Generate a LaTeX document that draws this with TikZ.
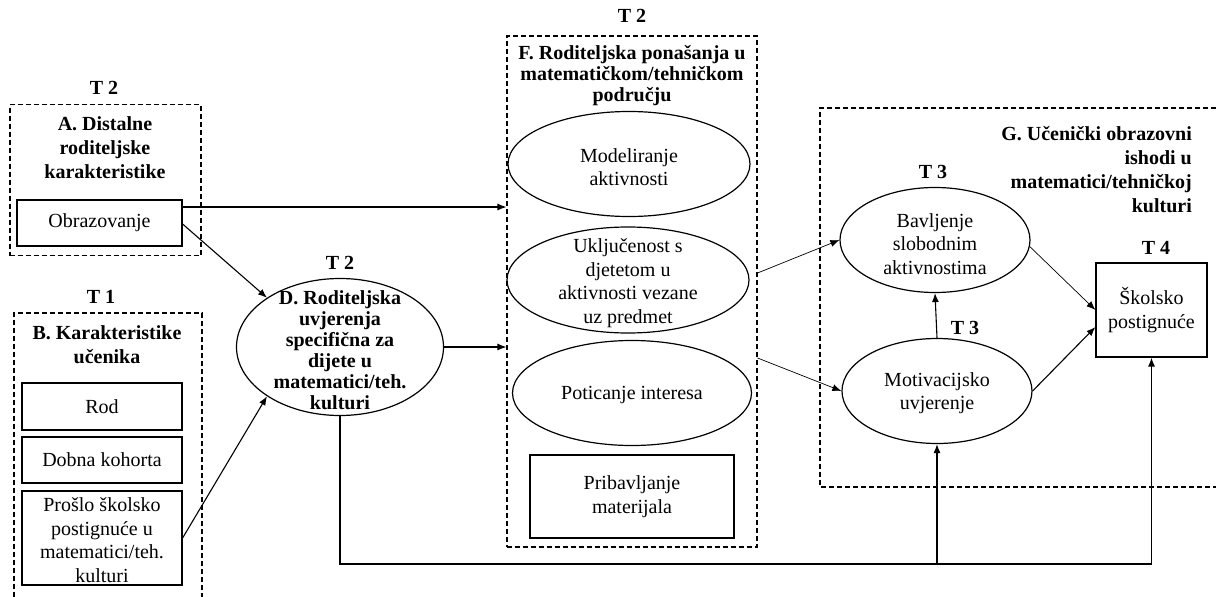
\documentclass[tikz,border=0pt]{standalone}
\usepackage{fontspec}
\setmainfont{Liberation Serif}
\usetikzlibrary{shapes.geometric,arrows.meta,calc}
\begin{document}
\begin{tikzpicture}[x=1pt,y=-1pt,
  txt/.style={font=\fontsize{20}{23.5}\selectfont, align=center, inner sep=0pt},
  btxt/.style={font=\bfseries\fontsize{20}{24}\selectfont, align=center, inner sep=0pt},
  dtxt/.style={font=\bfseries\fontsize{20}{21}\selectfont, align=center, inner sep=0pt},
  sbox/.style={draw, line width=1.2pt, rectangle, inner sep=0pt, font=\fontsize{20}{23.5}\selectfont, align=center},
  ell/.style={draw, line width=1.2pt, ellipse, inner sep=0pt},
  dashes/.style={line width=1.1pt, dash pattern=on 5pt off 3pt},
  dbox/.style={draw, dashes, rectangle, inner sep=0pt},
  arr/.style={-{Latex[length=9pt,width=7pt]}, line width=1.1pt},
  tarr/.style={-{Latex[length=9pt,width=7pt]}, line width=0.7pt}
]
\useasboundingbox (0,0) rectangle (1216,597);

% ---- A ----
\node[btxt] (tA) at (104,88) {T 2};
\node[dbox, minimum width=191pt, minimum height=151pt] (Abox) at (105.5,180) {};
\node[btxt] (Atitle) at (105,148) {A. Distalne\\roditeljske\\karakteristike};
\node[sbox, minimum width=165pt, minimum height=46pt] (obr) at (99.5,223) {Obrazovanje};

% ---- B ----
\node[btxt] (tB) at (101,297) {T 1};
\draw[dashes] (14,597) -- (14,313) -- (202,313) -- (202,597);
\node[btxt] (Btitle) at (107,345) {B. Karakteristike\\učenika};
\node[sbox, minimum width=160pt, minimum height=47pt] (rod) at (102,406.5) {Rod};
\node[sbox, minimum width=160pt, minimum height=46pt] (dob) at (102,460) {Dobna kohorta};
\node[sbox, minimum width=160pt, minimum height=94pt] (pro) at (102,538) {};
\node[txt] (protxt) at (102,540) {Prošlo školsko\\postignuće u\\matematici/teh.\\kulturi};

% ---- D ----
\node[btxt] (tD) at (340,263) {T 2};
\node[ell, minimum width=207pt, minimum height=137pt] (D) at (340,347) {};
\node[dtxt] (Dtxt) at (340,350) {D. Roditeljska\\uvjerenja\\specifična za\\dijete u\\matematici/teh.\\kulturi};

% ---- F ----
\node[btxt] (tF) at (632,16) {T 2};
\node[dbox, minimum width=250pt, minimum height=511pt] (Fbox) at (632,291.5) {};
\node[dtxt] (Ftitle) at (632,76) {F. Roditeljska ponašanja u\\matematičkom/tehničkom\\području};
\node[ell, minimum width=242pt, minimum height=105pt] (mod) at (629,164) {};
\node[txt] (modtxt) at (629,167) {Modeliranje\\aktivnosti};
\node[ell, minimum width=242pt, minimum height=106pt] (ukl) at (628,280) {};
\node[txt] (ukltxt) at (628,283) {Uključenost s\\djetetom u\\aktivnosti vezane\\uz predmet};
\node[ell, minimum width=239pt, minimum height=105pt] (pot) at (632,393) {};
\node[txt] (pottxt) at (632,395) {Poticanje interesa};
\node[sbox, minimum width=204pt, minimum height=83pt] (pri) at (632,496.5) {Pribavljanje\\materijala};

% ---- G ----
\draw[dashes] (1216,108) -- (820,108) -- (820,487) -- (1216,487);
\node[btxt, align=right, anchor=east] (Gtitle) at (1192,170) {G. Učenički obrazovni\\ishodi u\\matematici/tehničkoj\\kulturi};
\node[btxt] (tBav) at (933,172) {T 3};
\node[ell, minimum width=190pt, minimum height=105pt] (bav) at (935,240) {};
\node[txt] (bavtxt) at (935,244) {Bavljenje\\slobodnim\\aktivnostima};
\node[btxt] (tMot) at (965,328) {T 3};
\node[ell, minimum width=190pt, minimum height=105pt] (mot) at (937,391) {};
\node[txt] (mottxt) at (937,393) {Motivacijsko\\uvjerenje};
\node[btxt] (tSk) at (1156,248) {T 4};
\node[sbox, minimum width=111pt, minimum height=94pt] (sk) at (1151.5,310) {Školsko\\postignuće};

% ---- connectors ----
\coordinate (obrA) at ($(obr.east)+(0,-16)$);
\draw[arr] (obrA) -- (obrA -| Fbox.west);
\draw[arr] ($(obr.east)+(0,1)$) -- (D.146);
\draw[arr] (pro.east) -- (D.214);
\draw[arr] (D.east) -- (D.east -| Fbox.west);
\draw[tarr] ($(Fbox.east)+(0,-18.5)$) -- (bav.west);
\draw[tarr] ($(Fbox.east)+(0,66.5)$) -- (mot.west);
\draw[tarr] (bav.-4) -- (sk.west);
\draw[arr] (mot.east) -- ($(sk.west)+(0,17)$);
\draw[arr] (mot.north) -- (bav.south);
\coordinate (bus) at (1151.5,564);
\draw[arr] (D.south) |- (bus) -- (sk.south);
\draw[arr] (mot.south |- bus) -- (mot.south);
\end{tikzpicture}
\end{document}
